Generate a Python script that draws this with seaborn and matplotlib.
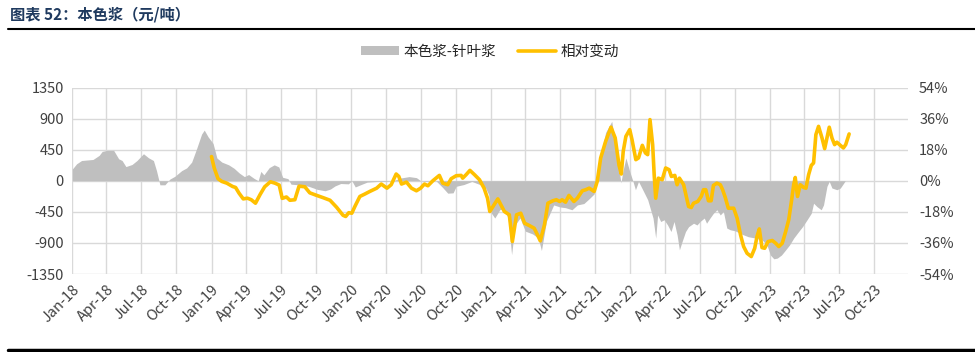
import pandas as pd
import matplotlib
matplotlib.use('Agg')
import matplotlib.pyplot as plt
import matplotlib.dates as mdates
from matplotlib.patches import Patch
from matplotlib.lines import Line2D
from matplotlib.ticker import FuncFormatter
import seaborn as sns

# 本色浆-针叶浆 价差 (元/吨)
gap_dates = [
    '2018-01-02', '2018-01-13', '2018-01-26', '2018-02-25', '2018-03-13', '2018-03-21',
    '2018-04-03', '2018-04-20', '2018-05-03', '2018-05-12', '2018-05-22', '2018-06-07',
    '2018-06-20', '2018-07-07', '2018-07-20', '2018-08-02', '2018-08-10', '2018-08-19',
    '2018-09-01', '2018-09-14', '2018-09-27', '2018-10-15', '2018-10-28', '2018-11-10',
    '2018-11-23', '2018-12-06', '2018-12-13', '2018-12-23',
    '2019-01-05', '2019-01-15', '2019-01-28', '2019-02-15', '2019-03-01', '2019-03-15',
    '2019-03-28', '2019-04-08', '2019-04-22', '2019-05-03', '2019-05-10', '2019-05-18',
    '2019-06-01', '2019-06-14', '2019-06-26', '2019-07-06', '2019-07-20', '2019-07-28',
    '2019-08-20', '2019-09-12', '2019-10-05', '2019-10-25', '2019-11-08', '2019-11-20',
    '2019-12-05', '2019-12-25',
    '2020-01-03', '2020-01-12', '2020-01-25', '2020-02-12', '2020-03-10', '2020-04-01',
    '2020-04-20', '2020-05-10', '2020-06-01', '2020-06-20', '2020-07-01', '2020-07-15',
    '2020-08-10', '2020-08-28', '2020-09-10', '2020-09-24', '2020-10-02', '2020-10-22',
    '2020-11-12', '2020-12-03', '2020-12-18', '2020-12-26',
    '2021-01-01', '2021-01-11', '2021-01-24', '2021-02-03', '2021-02-15', '2021-02-24',
    '2021-03-05', '2021-03-18', '2021-04-01', '2021-04-20', '2021-05-05', '2021-05-13',
    '2021-05-26', '2021-06-14', '2021-07-01', '2021-07-15', '2021-08-01', '2021-08-15',
    '2021-09-01', '2021-09-15', '2021-09-28', '2021-10-05', '2021-10-15', '2021-10-28',
    '2021-11-13', '2021-11-25', '2021-12-07', '2021-12-12', '2021-12-20', '2021-12-30',
    '2022-01-07', '2022-01-14', '2022-01-22', '2022-02-02', '2022-02-15', '2022-02-24',
    '2022-03-01', '2022-03-08', '2022-03-13', '2022-03-21', '2022-03-30', '2022-04-08',
    '2022-04-17', '2022-04-25', '2022-05-03', '2022-05-09', '2022-05-16', '2022-05-25',
    '2022-06-02', '2022-06-15', '2022-06-24', '2022-07-02', '2022-07-13', '2022-07-19',
    '2022-07-28', '2022-08-06', '2022-08-15', '2022-08-24', '2022-09-01', '2022-09-10',
    '2022-09-19', '2022-10-02', '2022-10-20', '2022-11-05', '2022-11-24', '2022-12-11',
    '2022-12-24',
    '2023-01-02', '2023-01-11', '2023-01-20', '2023-01-31', '2023-02-11', '2023-02-21',
    '2023-03-04', '2023-03-17', '2023-03-27', '2023-04-08', '2023-04-19', '2023-04-25',
    '2023-05-04', '2023-05-15', '2023-05-21', '2023-05-30', '2023-06-05', '2023-06-12',
    '2023-06-25', '2023-07-04', '2023-07-17',
]
gap_values = [
    170, 245, 293, 308, 367, 425,
    440, 440, 318, 293, 205, 235,
    293, 391, 333, 293, 147, -59,
    -59, 24, 64, 147, 186, 269,
    465, 675, 733, 636,
    540, 330, 270, 230, 180, 110,
    60, 90, 35, 0, 135, 85,
    190, 230, 200, 50, 30, -50,
    -60, -80, -125, -145, -120, -75,
    -40, -45,
    0, -90, -60, -20, -10, -10,
    0, 40, 60, 45, 0, -10,
    0, -100, -180, -175, -80, -55,
    -10, -55, -105, -200,
    -460, -540, -420, -400, -540, -1070,
    -640, -540, -730, -770, -830, -1010,
    -590, -350, -380, -390, -420, -350,
    -330, -260, -190, 110, 380, 700,
    860, 450, -30, 135, 330, 135,
    0, -130, -10, -130, -275, -445,
    -540, -830, -495, -590, -565, -640,
    -735, -590, -785, -1000, -880, -735,
    -665, -615, -640, -590, -540, -615,
    -540, -470, -420, -495, -445, -685,
    -710, -725, -775, -810, -830, -855,
    -930,
    -1075, -1130, -1120, -1075, -1000, -930,
    -830, -735, -665, -565, -470, -325,
    -375, -420, -350, -80, -10, -105,
    -130, -105, 0,
]

# 相对变动 (%)
chg_dates = [
    '2019-01-01', '2019-01-08', '2019-01-18', '2019-01-28', '2019-02-10', '2019-02-25',
    '2019-03-05', '2019-03-14', '2019-03-25', '2019-04-05', '2019-04-15', '2019-04-26',
    '2019-05-08', '2019-05-20', '2019-06-04', '2019-06-16', '2019-06-27', '2019-07-05',
    '2019-07-16', '2019-07-25', '2019-08-07', '2019-08-18', '2019-09-02', '2019-09-15',
    '2019-10-02', '2019-10-20', '2019-11-07', '2019-11-24', '2019-12-11', '2019-12-18',
    '2019-12-26',
    '2020-01-03', '2020-01-11', '2020-01-24', '2020-02-06', '2020-02-19', '2020-03-08',
    '2020-03-20', '2020-04-04', '2020-04-15', '2020-04-28', '2020-05-05', '2020-05-12',
    '2020-05-25', '2020-06-07', '2020-06-20', '2020-07-01', '2020-07-11', '2020-07-20',
    '2020-08-02', '2020-08-19', '2020-08-28', '2020-09-10', '2020-09-19', '2020-10-02',
    '2020-10-15', '2020-10-19', '2020-10-28', '2020-11-07', '2020-11-19', '2020-12-02',
    '2020-12-14', '2020-12-23', '2020-12-29',
    '2021-01-19', '2021-02-05', '2021-02-18', '2021-02-26', '2021-03-09', '2021-03-20',
    '2021-03-30', '2021-04-11', '2021-04-24', '2021-05-03', '2021-05-10', '2021-05-21',
    '2021-05-30', '2021-06-12', '2021-06-21', '2021-06-30', '2021-07-06', '2021-07-15',
    '2021-07-24', '2021-08-06', '2021-08-15', '2021-08-28', '2021-09-06', '2021-09-15',
    '2021-09-28', '2021-10-06', '2021-10-15', '2021-10-28', '2021-11-11', '2021-11-22',
    '2021-12-02', '2021-12-08', '2021-12-13', '2021-12-20', '2021-12-30',
    '2022-01-05', '2022-01-15', '2022-01-22', '2022-02-01', '2022-02-09', '2022-02-15',
    '2022-02-21', '2022-02-28', '2022-03-04', '2022-03-08', '2022-03-15', '2022-03-25',
    '2022-04-03', '2022-04-12', '2022-04-18', '2022-04-27', '2022-05-03', '2022-05-09',
    '2022-05-20', '2022-05-26', '2022-06-02', '2022-06-09', '2022-06-15', '2022-06-26',
    '2022-07-05', '2022-07-11', '2022-07-17', '2022-07-24', '2022-07-31', '2022-08-06',
    '2022-08-15', '2022-08-24', '2022-08-30', '2022-09-06', '2022-09-14', '2022-09-28',
    '2022-10-07', '2022-10-16', '2022-10-24', '2022-11-02', '2022-11-13', '2022-11-22',
    '2022-11-28', '2022-12-04', '2022-12-11', '2022-12-18', '2022-12-27',
    '2023-01-07', '2023-01-16', '2023-01-24', '2023-02-02', '2023-02-11', '2023-02-19',
    '2023-02-26', '2023-03-04', '2023-03-08', '2023-03-14', '2023-03-21', '2023-03-30',
    '2023-04-05', '2023-04-12', '2023-04-19', '2023-04-25', '2023-05-01', '2023-05-08',
    '2023-05-17', '2023-05-24', '2023-05-30', '2023-06-05', '2023-06-12', '2023-06-19',
    '2023-06-25', '2023-07-04', '2023-07-12', '2023-07-18', '2023-07-27',
]
chg_pct = [
    14.0, 7.4, 1.2, -0.4, -1.4, -3.3,
    -3.9, -7.2, -10.5, -10.1, -11.0, -13.0,
    -8.0, -3.5, -0.6, -1.4, -2.5, -10.2,
    -9.4, -11.3, -11.0, -3.1, -3.5, -7.0,
    -8.4, -9.8, -11.3, -15.3, -20.0, -20.7,
    -18.5,
    -18.8, -14.9, -9.1, -7.7, -6.2, -4.3,
    -1.9, -4.3, -2.3, 3.9, 2.5, -1.9,
    -0.8, -4.3, -5.8, -4.3, -1.9, -2.9,
    0.0, 3.1, -1.4, -2.3, 1.2, 2.9,
    3.1, 1.5, 3.5, 6.0, 3.5, 0.6,
    -4.3, -10.1, -17.8,
    -10.5, -17.8, -19.7, -35.2, -19.7, -18.8,
    -24.6, -25.9, -27.5, -31.4, -34.8, -25.5,
    -13.0, -11.6, -11.0, -12.0, -11.0, -12.4,
    -8.5, -12.0, -10.1, -5.8, -5.2, -4.3,
    -6.2, -0.4, 13.2, 22.8, 31.0, 24.8,
    9.0, 3.9, 17.0, 25.7, 29.6,
    23.8, 12.2, 13.2, 20.5, 16.1, 15.1,
    35.4, 20.9, 3.5, -10.1, 1.5, 0.6,
    7.4, 6.4, 2.5, 3.1, -2.3, 1.5,
    -2.3, -8.1, -14.9, -15.5, -13.0, -12.0,
    -9.1, -5.2, -5.2, -11.6, -11.6, -2.7,
    -1.4, -2.3, -5.2, -9.7, -15.9, -15.9,
    -21.7, -31.4, -38.1, -42.0, -43.9, -39.1,
    -32.3, -27.9, -38.7, -39.1, -35.2,
    -34.6, -36.2, -38.1, -36.2, -29.4, -22.6,
    -12.0, -2.3, 1.9, -9.1, -2.3, -3.9,
    -4.3, 3.5, 8.9, 10.3, 26.7, 31.5,
    24.8, 18.6, 24.8, 31.0, 24.8, 20.9,
    22.3, 20.5, 19.0, 20.9, 27.1,
]

gap = pd.DataFrame({'date': pd.to_datetime(gap_dates), 'value': gap_values})
chg = pd.DataFrame({'date': pd.to_datetime(chg_dates), 'pct': chg_pct})

sns.set_theme(style='white')
plt.rcParams['font.family'] = ['Noto Sans CJK SC', 'DejaVu Sans']
plt.rcParams['axes.unicode_minus'] = False

fig = plt.figure(figsize=(9.75, 3.52), dpi=100)
ax = fig.add_axes([72 / 975, 1 - 274 / 352, (908 - 72) / 975, (274 - 87.5) / 352])

ax.fill_between(gap['date'], gap['value'], 0, color='#BFBFBF', lw=0)
ax.set_ylim(-1350, 1350)
ax.set_yticks(range(-1350, 1351, 450))
ax.set_xlim(pd.Timestamp('2018-01-01'), pd.Timestamp('2023-12-28'))
ax.xaxis.set_major_locator(mdates.MonthLocator(bymonth=[1, 4, 7, 10]))
ax.xaxis.set_major_formatter(mdates.DateFormatter('%b-%y'))
ax.grid(True, color='#D9D9D9', lw=1)
ax.set_axisbelow(True)
for lbl in ax.get_xticklabels():
    lbl.set_rotation(45)
    lbl.set_ha('right')
    lbl.set_rotation_mode('anchor')
ax.tick_params(axis='both', length=0, labelsize=10.5, colors='#404040', pad=6)

ax2 = ax.twinx()
sns.lineplot(data=chg, x='date', y='pct', ax=ax2, color='#FFC000', lw=2.6)
ax2.set_ylim(-54, 54)
ax2.set_yticks(range(-54, 55, 18))
ax2.yaxis.set_major_formatter(FuncFormatter(lambda v, p: f'{v:.0f}%'))
ax2.tick_params(axis='y', length=0, labelsize=10.5, colors='#404040', pad=8)
ax2.grid(False)

for a in (ax, ax2):
    a.set_xlabel('')
    a.set_ylabel('')
    for s in a.spines.values():
        s.set_visible(False)

handles = [Patch(facecolor='#BFBFBF', edgecolor='none'),
           Line2D([], [], color='#FFC000', lw=2.6)]
fig.legend(handles, ['本色浆-针叶浆', '相对变动'], loc='center',
           bbox_to_anchor=(490 / 975, 1 - 52 / 352), ncol=2, frameon=False,
           fontsize=10.5, handlelength=2.6, handleheight=0.55,
           columnspacing=1.5, handletextpad=0.3)

fig.text(10 / 975, 1 - 15 / 352, '图表 52：本色浆（元/吨）', fontsize=11,
         fontweight='bold', color='#1F3A5F', va='center')
fig.add_artist(Line2D([8 / 975, 1], [1 - 29 / 352] * 2, color='black', lw=1.5))
fig.add_artist(Line2D([8 / 975, 1], [1 - 350 / 352] * 2, color='black', lw=2.5))

fig.savefig('out.png', dpi=100)
